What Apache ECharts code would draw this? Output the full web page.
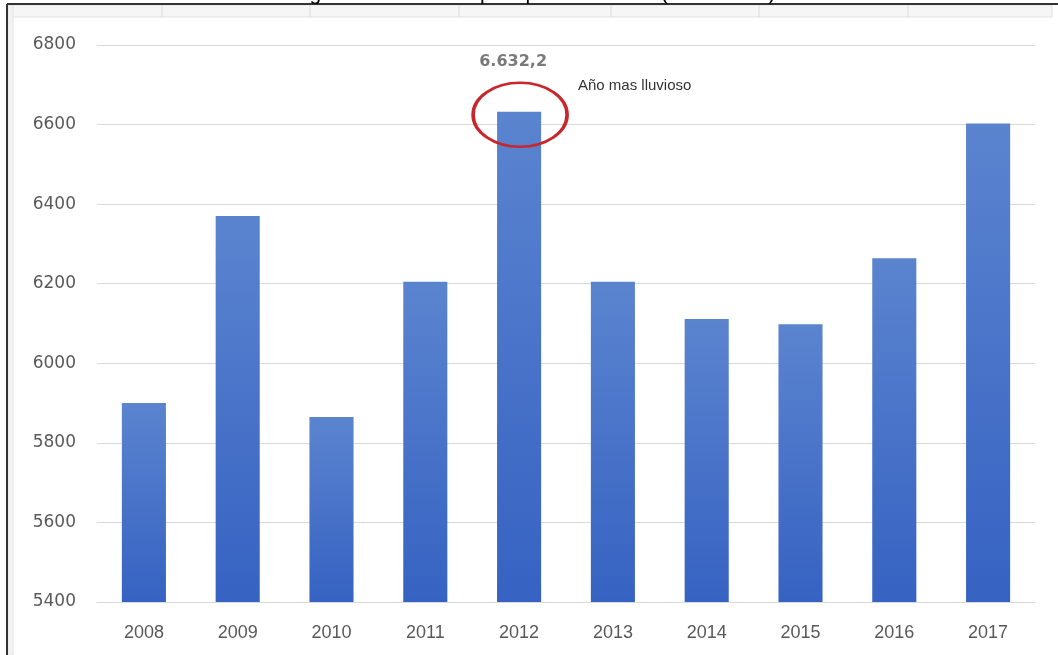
<!DOCTYPE html>
<html>
<head>
<meta charset="utf-8">
<script src="https://cdn.jsdelivr.net/npm/echarts@6/dist/echarts.min.js"></script>
<style>html,body{margin:0;padding:0;background:#fff}#c{width:1058px;height:655px}</style>
</head>
<body>
<div id="c"></div>
<script>
var titleText = 'Registro histórico de precipitación anual (2008-2017)';
var years = ['2008','2009','2010','2011','2012','2013','2014','2015','2016','2017'];
var rainfall = [5900, 6370, 5865, 6205, 6632.2, 6205, 6111, 6098, 6264, 6603];
var yMin = 5400, yMax = 6800, yStep = 200;
var peakLabel = '6.632,2';
var peakNote = 'Año mas lluvioso';
var peakIndex = 4;

var chart = echarts.init(document.getElementById('c'), null, {renderer: 'canvas'});

var barColor = new echarts.graphic.LinearGradient(0, 0, 0, 1, [
  {offset: 0, color: '#5b84cf'},
  {offset: 1, color: '#3662c2'}
]);

var seriesData = rainfall.map(function (v, i) {
  if (i === peakIndex) {
    return {
      value: v,
      label: {
        show: true, position: 'top', distance: 42, offset: [-6, 0],
        formatter: peakLabel,
        fontFamily: 'DejaVu Sans', fontWeight: 'bold', fontSize: 16, color: '#7a7a7a'
      }
    };
  }
  return v;
});

var headerDividers = [162, 310, 459, 611, 759, 908];
var graphics = [
  {type: 'rect', shape: {x: 8, y: 5, width: 1044, height: 12}, style: {fill: '#f6f6f6', stroke: '#e2e2e2', lineWidth: 1}, silent: true},
  {type: 'rect', shape: {x: 8, y: 5, width: 5, height: 650}, style: {fill: '#f2f2f2', stroke: '#e4e4e4', lineWidth: 1}, silent: true},
  {type: 'line', shape: {x1: 7, y1: 4, x2: 7, y2: 655}, style: {stroke: '#333', lineWidth: 2}, silent: true},
  {type: 'line', shape: {x1: 7, y1: 4, x2: 1058, y2: 4}, style: {stroke: '#333', lineWidth: 2}, silent: true},
  {type: 'text', left: 578, top: 78, style: {text: peakNote, fontFamily: 'Liberation Sans', fontSize: 15, fill: '#333'}, silent: true}
];
headerDividers.forEach(function (x) {
  graphics.push({type: 'line', shape: {x1: x, y1: 5, x2: x, y2: 17}, style: {stroke: '#dcdcdc', lineWidth: 1}, silent: true});
});

chart.setOption({
  animation: false,
  backgroundColor: '#ffffff',
  title: {
    text: titleText, left: 'center', top: -21,
    textStyle: {fontFamily: 'Liberation Sans', fontSize: 21, fontWeight: 'normal', color: '#000'}
  },
  grid: {left: 97, right: 23, top: 45, bottom: 53, containLabel: false},
  xAxis: {
    type: 'category', data: years,
    axisLine: {show: true, lineStyle: {color: '#d9d9d9', width: 1}},
    axisTick: {show: false},
    axisLabel: {margin: 22, fontFamily: 'Liberation Sans', fontSize: 18, color: '#595959'}
  },
  yAxis: {
    type: 'value', min: yMin, max: yMax, interval: yStep,
    axisLine: {show: false}, axisTick: {show: false},
    splitLine: {lineStyle: {color: '#d9d9d9', width: 1}},
    axisLabel: {
      margin: 21, fontFamily: 'DejaVu Sans', fontSize: 17, color: '#595959',
      formatter: function (v) { return String(v); }
    }
  },
  series: [{
    type: 'bar', data: seriesData, barWidth: '47%',
    itemStyle: {color: barColor},
    markPoint: {
      silent: true,
      data: [{
        coord: [peakIndex, rainfall[peakIndex]],
        symbol: 'circle', symbolSize: [94, 64], symbolOffset: [1, 3],
        itemStyle: {color: 'rgba(0,0,0,0)', borderColor: '#c8262c', borderWidth: 3},
        label: {show: false}
      }]
    }
  }],
  graphic: graphics
});
</script>
</body>
</html>
